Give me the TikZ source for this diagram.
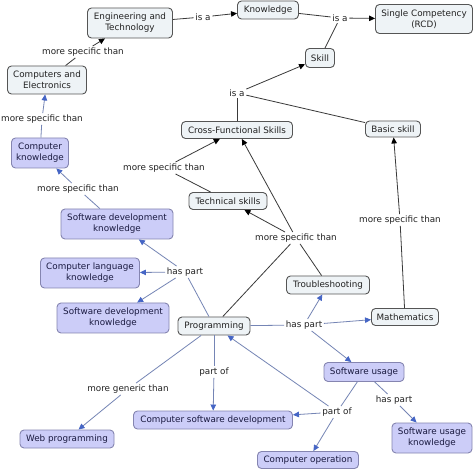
\documentclass[tikz,border=0pt]{standalone}
\usepackage{fontspec}
\setmainfont{DejaVu Sans}
\usetikzlibrary{arrows.meta}
\definecolor{gfill}{HTML}{EEF3F6}
\definecolor{gdraw}{HTML}{555555}
\definecolor{bfill}{HTML}{CCCDF8}
\definecolor{bdraw}{HTML}{8585B0}
\definecolor{bline}{HTML}{7585B5}
\definecolor{barrow}{HTML}{4565C5}
\definecolor{kline}{HTML}{3A3A3A}
\definecolor{gtext}{HTML}{222222}
\definecolor{btext}{HTML}{1A1A40}
\begin{document}
\begin{tikzpicture}[x=1pt,y=-1pt,
 every node/.style={font=\fontsize{8.8}{11}\selectfont, inner sep=0pt, align=center},
 gnode/.style={draw=gdraw, fill=gfill, rounded corners=4pt, line width=0.9pt, text=gtext},
 bnode/.style={draw=bdraw, fill=bfill, rounded corners=4pt, line width=0.9pt, text=btext},
 lbl/.style={inner sep=1.5pt, text=gtext},
 kl/.style={draw=kline, line width=0.8pt},
 ka/.style={kl, -{Triangle[length=6pt,width=5.5pt,color=black]}},
 bl/.style={draw=bline, line width=0.8pt},
 ba/.style={bl, -{Triangle[length=6pt,width=5.5pt,color=barrow]}},
]
\useasboundingbox[fill=white] (0,0) rectangle (474,470);

% concepts
\node[gnode, minimum width=85, minimum height=30] (eng) at (130,23) {Engineering and\\Technology};
\node[gnode, minimum width=61, minimum height=18] (know) at (268,10) {Knowledge};
\node[gnode, minimum width=97, minimum height=29] (single) at (424,19) {Single Competency\\(RCD)};
\node[gnode, minimum width=29, minimum height=19] (skill) at (320,58) {Skill};
\node[gnode, minimum width=111, minimum height=17] (cfs) at (237,130) {Cross-Functional Skills};
\node[gnode, minimum width=55, minimum height=16] (basic) at (393,129) {Basic skill};
\node[gnode, minimum width=79, minimum height=28] (comp) at (47,80) {Computers and\\Electronics};
\node[bnode, minimum width=57, minimum height=30] (ck) at (40,153) {Computer\\knowledge};
\node[bnode, minimum width=112, minimum height=30] (sdka) at (117,224) {Software development\\knowledge};
\node[gnode, minimum width=78, minimum height=17] (tech) at (228,201) {Technical skills};
\node[gnode, minimum width=83, minimum height=18] (trouble) at (328,285) {Troubleshooting};
\node[gnode, minimum width=67, minimum height=17] (math) at (405,317) {Mathematics};
\node[gnode, minimum width=72, minimum height=18] (prog) at (214,326) {Programming};
\node[bnode, minimum width=99, minimum height=30] (cl) at (90,273) {Computer language\\knowledge};
\node[bnode, minimum width=112, minimum height=30] (sdkb) at (113,318) {Software development\\knowledge};
\node[bnode, minimum width=94, minimum height=18] (web) at (67,439) {Web programming};
\node[bnode, minimum width=159, minimum height=18] (csd) at (213,420) {Computer software development};
\node[bnode, minimum width=80, minimum height=19] (su) at (364,372) {Software usage};
\node[bnode, minimum width=101, minimum height=17] (cop) at (308,460) {Computer operation};
\node[bnode, minimum width=80, minimum height=30] (suk) at (432,438) {Software usage\\knowledge};

% linking phrases
\node[lbl] (l1) at (203,17) {is a};
\node[lbl] (l2) at (340,18) {is a};
\node[lbl] (l3) at (237,93) {is a};
\node[lbl] (l4) at (83,52) {more specific than};
\node[lbl] (l5) at (42,119) {more specific than};
\node[lbl] (l6) at (78,189) {more specific than};
\node[lbl] (l7) at (164,168) {more specific than};
\node[lbl] (l8) at (296,238) {more specific than};
\node[lbl] (l9) at (400,220) {more specific than};
\node[lbl] (l10) at (304,325) {has part};
\node[lbl] (l11) at (185,272) {has part};
\node[lbl] (l12) at (128,389) {more generic than};
\node[lbl] (l13) at (214,372) {part of};
\node[lbl] (l14) at (337,412) {part of};
\node[lbl] (l15) at (394,400) {has part};

% connectors
\path[kl] (eng) -- (l1);
\path[ka] (l1) -- (know);
\path[kl] (know) -- (l2);
\path[kl] (skill) -- (l2);
\path[ka] (l2) -- (single);
\path[kl] (cfs) -- (l3);
\path[kl] (basic) -- (l3);
\path[ka] (l3) -- (skill);
\path[kl] (comp) -- (l4);
\path[ka] (l4) -- (eng);
\path[bl] (ck) -- (l5);
\path[ba] (l5) -- (comp);
\path[bl] (sdka) -- (l6);
\path[ba] (l6) -- (ck);
\path[kl] (tech) -- (l7);
\path[ka] (l7) -- (cfs);
\path[kl] (trouble) -- (l8);
\path[kl] (prog) -- (l8);
\path[ka] (l8) -- (tech);
\path[ka] (l8) -- (cfs);
\path[kl] (math) -- (l9);
\path[ka] (l9) -- (basic);
\path[bl] (prog) -- (l10);
\path[ba] (l10) -- (trouble);
\path[ba] (l10) -- (math);
\path[ba] (l10) -- (su);
\path[bl] (prog) -- (l11);
\path[ba] (l11) -- (sdka);
\path[ba] (l11) -- (cl);
\path[ba] (l11) -- (sdkb);
\path[bl] (prog) -- (l12);
\path[ba] (l12) -- (web);
\path[bl] (prog) -- (l13);
\path[ba] (l13) -- (csd);
\path[bl] (su) -- (l14);
\path[ba] (l14) -- (prog);
\path[ba] (l14) -- (csd);
\path[ba] (l14) -- (cop);
\path[bl] (su) -- (l15);
\path[ba] (l15) -- (suk);
\end{tikzpicture}
\end{document}
